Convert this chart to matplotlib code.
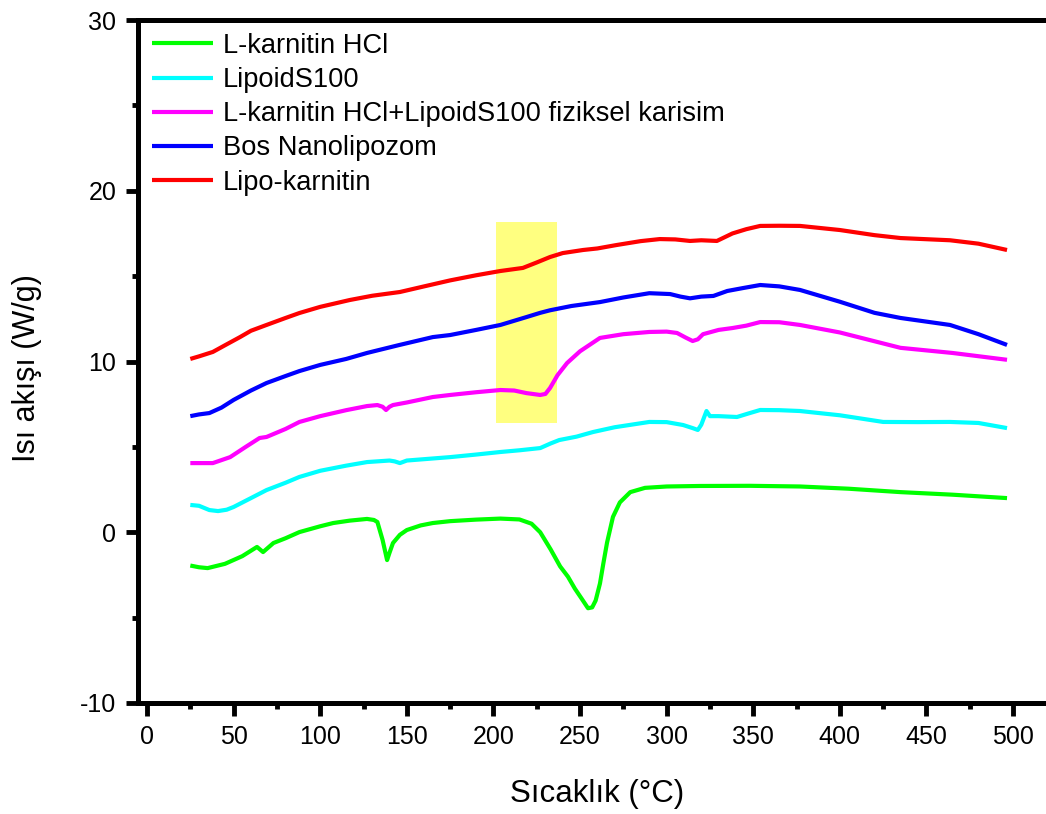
#!/usr/bin/env python3
"""DSC thermograms: L-karnitin HCl, LipoidS100, mixture and nanoliposomes."""

import matplotlib
matplotlib.use("Agg")
import matplotlib.pyplot as plt
from matplotlib.ticker import MultipleLocator
from matplotlib.patches import Rectangle

# ── Data ─────────────────────────────────────────────────────────────────────
labels = ["L-karnitin HCl", "LipoidS100",
          "L-karnitin HCl+LipoidS100 fiziksel karisim",
          "Bos Nanolipozom", "Lipo-karnitin"]
colors = ["#00ff00", "#00ffff", "#ff00ff", "#0000ff", "#ff0000"]

x_karnitin = [25, 30, 35, 45, 55, 63.5, 67, 73, 80, 88, 100, 107.5, 117, 127,
              131, 133, 136, 138.6, 140, 142, 146, 150, 158, 165, 175, 190,
              204, 215, 222, 227, 233, 238.5, 243, 247, 251, 254.6, 257, 259,
              261.5, 263.5, 265.6, 269, 273, 279, 287.5, 300, 319, 348, 377,
              405, 435, 465, 496.5]
y_karnitin = [-1.95, -2.05, -2.1, -1.85, -1.4, -0.86, -1.16, -0.63, -0.35,
              0.01, 0.35, 0.54, 0.68, 0.78, 0.72, 0.6, -0.45, -1.63, -1.2,
              -0.63, -0.15, 0.13, 0.4, 0.54, 0.65, 0.74, 0.8, 0.75, 0.5, 0.0,
              -1.0, -2.0, -2.6, -3.3, -3.9, -4.45, -4.4, -4.0, -3.0, -1.8,
              -0.6, 0.9, 1.75, 2.35, 2.6, 2.68, 2.71, 2.72, 2.68, 2.55, 2.35,
              2.2, 2.0]

x_lipoid = [25, 30, 36, 41, 46, 50, 60, 69, 80, 88, 100, 115, 127, 140, 143,
            146, 150, 165, 175, 190, 204, 215, 227, 233, 238, 248, 257.5, 270,
            290, 300, 309.5, 315, 318, 320, 323, 325, 330, 340.6, 347, 354, 365,
            377, 400, 425, 445, 463.6, 480, 496.5]
y_lipoid = [1.6, 1.55, 1.3, 1.24, 1.32, 1.48, 2.0, 2.47, 2.9, 3.24, 3.6, 3.9,
            4.11, 4.2, 4.15, 4.05, 4.2, 4.32, 4.4, 4.55, 4.7, 4.8, 4.93, 5.2,
            5.4, 5.6, 5.87, 6.15, 6.46, 6.45, 6.28, 6.1, 5.99, 6.3, 7.1, 6.8,
            6.8, 6.75, 6.95, 7.16, 7.15, 7.1, 6.85, 6.46, 6.45, 6.46, 6.4, 6.1]

x_karisim = [25, 30, 38, 48, 57, 65, 69, 80, 88, 100, 115, 127, 133, 136,
             138, 140, 142, 150, 165, 175, 190, 204, 212, 219, 227, 230, 232.7,
             237, 242.5, 250, 261.5, 275, 290, 300, 306, 311, 315, 318, 321,
             330, 338, 346, 354, 365, 377, 400, 435, 465, 496.5]
y_karisim = [4.05, 4.05, 4.05, 4.4, 5.0, 5.52, 5.58, 6.05, 6.46, 6.8, 7.15,
             7.39, 7.45, 7.35, 7.16, 7.35, 7.45, 7.6, 7.92, 8.04, 8.2, 8.33,
             8.3, 8.15, 8.04, 8.1, 8.45, 9.2, 9.91, 10.6, 11.38, 11.6, 11.73,
             11.75, 11.67, 11.4, 11.2, 11.3, 11.6, 11.85, 11.96, 12.1, 12.31,
             12.3, 12.14, 11.7, 10.8, 10.5, 10.1]

x_bos = [25, 30, 36, 43, 50, 60, 69, 80, 88, 100, 115, 127, 145, 165, 175,
         190, 204, 219, 227, 232.7, 245, 261.5, 275, 290, 302, 308, 313.5, 320,
         327, 335, 344, 354, 365, 377, 400, 420, 435, 463.6, 480, 496.5]
y_bos = [6.8, 6.9, 6.98, 7.3, 7.75, 8.3, 8.74, 9.15, 9.44, 9.8, 10.15, 10.5,
         10.95, 11.43, 11.55, 11.85, 12.14, 12.6, 12.85, 13.0, 13.25, 13.48,
         13.75, 14.0, 13.95, 13.8, 13.7, 13.8, 13.84, 14.13, 14.3, 14.48, 14.4,
         14.19, 13.5, 12.85, 12.55, 12.14, 11.6, 10.97]

x_lipo = [25, 30, 38, 45, 53.7, 60, 69, 80, 88, 100, 117, 130, 146, 160, 175,
          190, 204, 217, 225, 232.7, 240, 251.7, 260, 271, 285, 296, 305,
          313.5, 320, 329, 338, 346, 354, 365, 377, 400, 420, 435, 463.6, 480,
          496.5]
y_lipo = [10.15, 10.3, 10.56, 10.95, 11.43, 11.8, 12.14, 12.55, 12.84, 13.2,
          13.6, 13.85, 14.07, 14.4, 14.75, 15.05, 15.3, 15.48, 15.8, 16.12,
          16.35, 16.53, 16.62, 16.82, 17.05, 17.17, 17.15, 17.06, 17.1, 17.06,
          17.5, 17.75, 17.94, 17.95, 17.94, 17.7, 17.4, 17.23, 17.1, 16.9,
          16.53]

series = [(x_karnitin, y_karnitin), (x_lipoid, y_lipoid),
          (x_karisim, y_karisim), (x_bos, y_bos), (x_lipo, y_lipo)]

# highlighted temperature window
highlight_x = (201.3, 236.5)
highlight_y = (6.38, 18.18)

# ── Matplotlib defaults ──────────────────────────────────────────────────────
plt.rcParams.update({
    "font.family": ["Liberation Sans", "DejaVu Sans"],
    "font.size": 18,
    "axes.unicode_minus": False,
})

fig = plt.figure(figsize=(10.46, 8.14), dpi=100)
ax = fig.add_axes([138 / 1046, 1 - 703 / 814, 1 - 138 / 1046, 683 / 814])

ax.add_patch(Rectangle((highlight_x[0], highlight_y[0]),
                       highlight_x[1] - highlight_x[0],
                       highlight_y[1] - highlight_y[0],
                       facecolor="#ffff80", edgecolor="none", zorder=1))

for (xs, ys), lab, col in zip(series, labels, colors):
    ax.plot(xs, ys, color=col, linewidth=3.0, label=lab, zorder=2,
            solid_joinstyle="round", solid_capstyle="butt")

ax.set_xlim(-5.2, 519)
ax.set_ylim(-10, 30)
ax.xaxis.set_major_locator(MultipleLocator(50))
ax.xaxis.set_minor_locator(MultipleLocator(25))
ax.yaxis.set_major_locator(MultipleLocator(10))
ax.yaxis.set_minor_locator(MultipleLocator(5))

for side in ("left", "bottom", "top"):
    ax.spines[side].set_linewidth(3.6)
ax.spines["right"].set_visible(False)
ax.tick_params(which="major", direction="out", length=9, width=3.5,
               labelsize=18)
ax.tick_params(which="minor", direction="out", length=4.5, width=3.5)
ax.tick_params(axis="x", which="major", pad=7)
ax.tick_params(axis="y", which="major", pad=6.5)

ax.set_xlabel("Sıcaklık (°C)", fontsize=22.5)
ax.set_ylabel("Isı akışı (W/g)", fontsize=22)
ax.xaxis.set_label_coords(0.5 - (138 + 908 / 2 - 597) / 908, -0.112)
ax.yaxis.set_label_coords(-0.106, 0.49)

ax.legend(loc="upper left", bbox_to_anchor=(0.0154, 0.981), frameon=False,
          borderaxespad=0, borderpad=0, handlelength=2.25, handletextpad=0.36,
          labelspacing=0.3, fontsize=19.6)

fig.savefig("out.png", dpi=100)
